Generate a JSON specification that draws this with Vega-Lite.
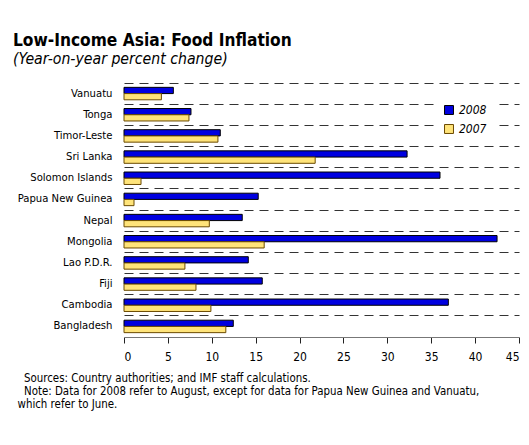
{
  "$schema": "https://vega.github.io/schema/vega-lite/v6.json",
  "autosize": {"type": "none"},
  "width": 395,
  "height": 254,
  "padding": {"left": 124, "top": 83, "right": 10, "bottom": 108},
  "background": "white",
  "title": {
    "text": "Low-Income Asia: Food Inflation",
    "subtitle": "(Year-on-year percent change)",
    "anchor": "start",
    "frame": "group",
    "dx": -111,
    "offset": 16,
    "font": "DejaVu Sans Condensed, Roboto Condensed, Roboto, sans-serif",
    "fontSize": 17.2,
    "fontWeight": "bold",
    "color": "black",
    "subtitleFont": "DejaVu Sans Condensed, Roboto Condensed, Roboto, sans-serif",
    "subtitleFontSize": 15.7,
    "subtitleFontStyle": "italic",
    "subtitleColor": "black",
    "subtitlePadding": 3
  },
  "config": {
    "view": {"stroke": null},
    "font": "DejaVu Sans Condensed, Roboto Condensed, Roboto, sans-serif"
  },
  "data": {
    "values": [
      {"country": "Vanuatu", "year": "2008", "value": 5.62},
      {"country": "Vanuatu", "year": "2007", "value": 4.26},
      {"country": "Tonga", "year": "2008", "value": 7.63},
      {"country": "Tonga", "year": "2007", "value": 7.4},
      {"country": "Timor-Leste", "year": "2008", "value": 10.97},
      {"country": "Timor-Leste", "year": "2007", "value": 10.7},
      {"country": "Sri Lanka", "year": "2008", "value": 32.25},
      {"country": "Sri Lanka", "year": "2007", "value": 21.78},
      {"country": "Solomon Islands", "year": "2008", "value": 36.0},
      {"country": "Solomon Islands", "year": "2007", "value": 1.94},
      {"country": "Papua New Guinea", "year": "2008", "value": 15.29},
      {"country": "Papua New Guinea", "year": "2007", "value": 1.14},
      {"country": "Nepal", "year": "2008", "value": 13.47},
      {"country": "Nepal", "year": "2007", "value": 9.72},
      {"country": "Mongolia", "year": "2008", "value": 42.5},
      {"country": "Mongolia", "year": "2007", "value": 15.97},
      {"country": "Lao P.D.R.", "year": "2008", "value": 14.16},
      {"country": "Lao P.D.R.", "year": "2007", "value": 6.94},
      {"country": "Fiji", "year": "2008", "value": 15.75},
      {"country": "Fiji", "year": "2007", "value": 8.2},
      {"country": "Cambodia", "year": "2008", "value": 36.95},
      {"country": "Cambodia", "year": "2007", "value": 9.9},
      {"country": "Bangladesh", "year": "2008", "value": 12.45},
      {"country": "Bangladesh", "year": "2007", "value": 11.6}
    ]
  },
  "mark": {"type": "bar", "strokeWidth": 1},
  "encoding": {
    "y": {
      "field": "country",
      "type": "nominal",
      "sort": ["Vanuatu", "Tonga", "Timor-Leste", "Sri Lanka", "Solomon Islands", "Papua New Guinea", "Nepal", "Mongolia", "Lao P.D.R.", "Fiji", "Cambodia", "Bangladesh"],
      "scale": {"paddingInner": 0, "paddingOuter": 0},
      "axis": {
        "title": null,
        "domain": false,
        "ticks": false,
        "grid": true,
        "bandPosition": 0,
        "gridColor": "#333333",
        "gridDash": [9, 6],
        "gridWidth": 1,
        "labelFontSize": 11.2,
        "labelColor": "black",
        "labelPadding": 12
      }
    },
    "yOffset": {
      "field": "year",
      "type": "nominal",
      "sort": ["2008", "2007"],
      "scale": {"paddingOuter": 0.7, "paddingInner": 0}
    },
    "x": {
      "field": "value",
      "type": "quantitative",
      "scale": {"domain": [0, 45], "nice": false},
      "axis": {
        "values": [0, 5, 10, 15, 20, 25, 30, 35, 40, 45],
        "grid": false,
        "domainColor": "#777777",
        "tickColor": "#222222",
        "tickSize": 6,
        "labelFontSize": 12,
        "labelColor": "black",
        "labelPadding": 8,
        "title": ["\u200b\u00a0\u00a0Sources: Country authorities; and IMF staff calculations.", "\u200b\u00a0\u00a0Note: Data for 2008 refer to August, except for data for Papua New Guinea and Vanuatu,", "which refer to June."],
        "titleFontSize": 11.4,
        "titleFontWeight": "normal",
        "titleColor": "black",
        "titleAlign": "left",
        "titleAnchor": "start",
        "titleBaseline": "top",
        "titleLineHeight": 13,
        "titleX": -107,
        "titleY": 35
      }
    },
    "fill": {
      "field": "year",
      "type": "nominal",
      "scale": {"domain": ["2008", "2007"], "range": ["#0000e0", "#ffe47a"]},
      "legend": {
        "title": null,
        "orient": "none",
        "legendX": 311,
        "legendY": 13,
        "padding": 8,
        "fillColor": "white",
        "strokeColor": null,
        "symbolType": "square",
        "symbolSize": 80,
        "symbolStrokeWidth": 1,
        "labelFontSize": 12,
        "labelFontStyle": "italic",
        "labelColor": "black",
        "rowPadding": 5
      }
    },
    "stroke": {
      "field": "year",
      "type": "nominal",
      "scale": {"domain": ["2008", "2007"], "range": ["#000000", "#6b4a00"]},
      "legend": null
    }
  }
}
